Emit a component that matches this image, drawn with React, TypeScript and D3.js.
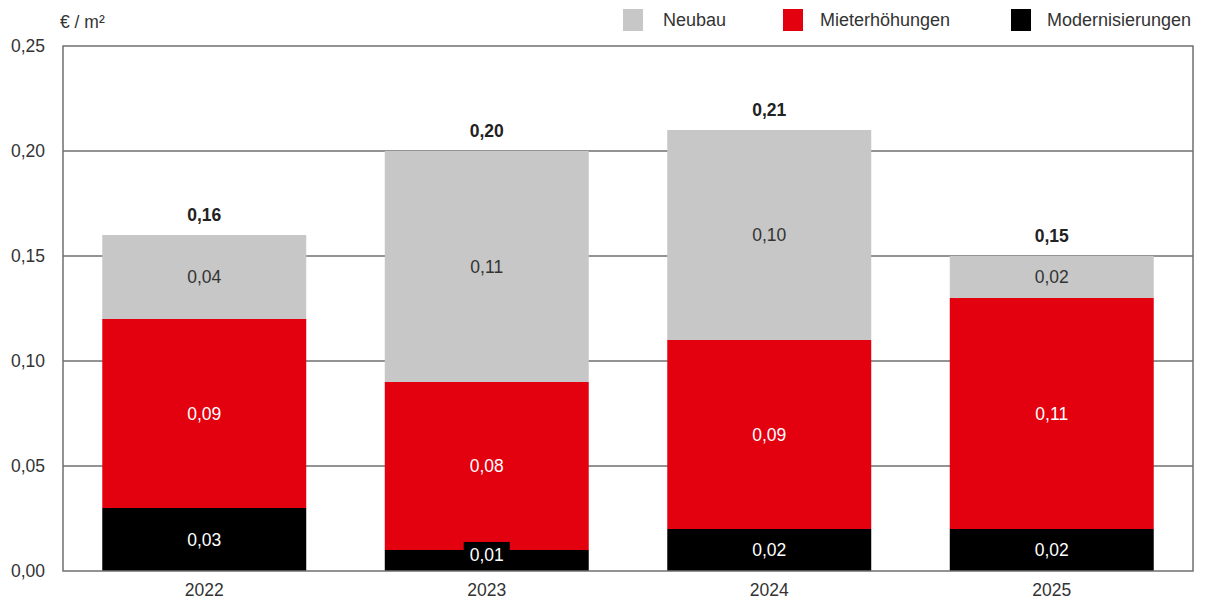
import React from "react";
import * as d3 from "d3";

const years = ["2022", "2023", "2024", "2025"];
const modernisierungen = [0.03, 0.01, 0.02, 0.02];
const mieterhoehungen = [0.09, 0.08, 0.09, 0.11];
const neubau = [0.04, 0.11, 0.10, 0.02];
const totals = [0.16, 0.20, 0.21, 0.15];
const yTicks = [0, 0.05, 0.1, 0.15, 0.2, 0.25];

const seriesDefs = [
  { key: "Modernisierungen", values: modernisierungen, color: "#000000", text: "#ffffff" },
  { key: "Mieterhöhungen", values: mieterhoehungen, color: "#e3000f", text: "#ffffff" },
  { key: "Neubau", values: neubau, color: "#c6c7c6", text: "#333333" },
];
const legendOrder = ["Neubau", "Mieterhöhungen", "Modernisierungen"];

const W = 1207, H = 600;
const left = 63, right = 1193, top = 46, bottom = 571;
const font = "'Liberation Sans', Arial, sans-serif";
const FS = 17.5;
const fmt = (v: number) => v.toFixed(2).replace(".", ",");

export default function App() {
  const x = d3.scaleBand<string>().domain(years).range([left, right]).paddingInner(0.278).paddingOuter(0.139);
  const y = d3.scaleLinear().domain([0, 0.25]).range([bottom, top]);

  const segs: any[] = [];
  years.forEach((yr, i) => {
    let acc = 0;
    seriesDefs.forEach((s) => {
      const v = s.values[i];
      segs.push({ yr, y0: acc, y1: acc + v, v, s });
      acc += v;
    });
  });

  const legendX = [623, 783, 1011];
  const legendTextX = [663, 820, 1047];
  const bw = x.bandwidth();
  return (
    <svg width={W} height={H} style={{ position: "absolute", left: 0, top: 0 }} fontFamily={font}>
      <rect width={W} height={H} fill="#fff" />
      {yTicks.map((t) => (
        <g key={t}>
          {t > 0 && t < 0.25 && (
            <line x1={left} x2={right} y1={y(t)} y2={y(t)} stroke="#6f6f6f" strokeWidth={1.3} />
          )}
          <text x={45} y={y(t)} textAnchor="end" dominantBaseline="central" fontSize={FS} fill="#333">
            {fmt(t)}
          </text>
        </g>
      ))}
      <text x={60} y={22} fontSize={FS} fill="#333" dominantBaseline="central">€ / m²</text>
      {segs.map((d, k) => (
        <rect key={k} x={x(d.yr)!} y={y(d.y1)} width={bw} height={y(d.y0) - y(d.y1)} fill={d.s.color} />
      ))}
      {segs.map((d, k) => {
        const bx = x(d.yr)!;
        const yt = y(d.y1), yb = y(d.y0);
        const cy = (yt + yb) / 2;
        const small = yb - yt < 24;
        return (
          <g key={k}>
            {small && <rect x={bx + bw / 2 - 23} y={yb - 29} width={46} height={24} fill={d.s.color} />}
            <text
              x={bx + bw / 2}
              y={small ? yb - 16 : cy}
              textAnchor="middle"
              dominantBaseline="central"
              fontSize={FS}
              fill={d.s.text}
            >
              {fmt(d.v)}
            </text>
          </g>
        );
      })}
      {years.map((yr, i) => (
        <g key={yr}>
          <text x={x(yr)! + bw / 2} y={y(totals[i]) - 20} textAnchor="middle" dominantBaseline="central" fontSize={FS} fontWeight="bold" fill="#222">
            {fmt(totals[i])}
          </text>
          <text x={x(yr)! + bw / 2} y={590} textAnchor="middle" dominantBaseline="central" fontSize={FS} fill="#333">
            {yr}
          </text>
        </g>
      ))}
      <rect x={left} y={top} width={right - left} height={bottom - top} fill="none" stroke="#6f6f6f" strokeWidth={1.5} />
      {legendOrder.map((name, i) => {
        const s = seriesDefs.find((d) => d.key === name)!;
        return (
          <g key={name}>
            <rect x={legendX[i]} y={9} width={20} height={22} fill={s.color} />
            <text x={legendTextX[i]} y={20} dominantBaseline="central" fontSize={18} fill="#333">{name}</text>
          </g>
        );
      })}
    </svg>
  );
}
